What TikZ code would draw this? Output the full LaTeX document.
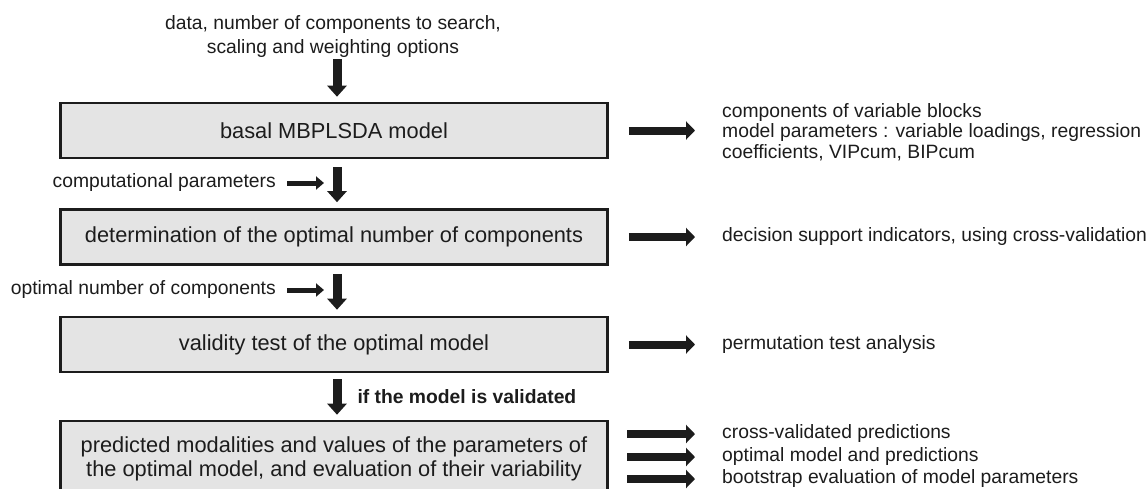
\documentclass[tikz,border=0pt]{standalone}
\usepackage{fontspec}
\setmainfont{Liberation Sans}
\usetikzlibrary{arrows.meta}
\definecolor{boxfill}{HTML}{E4E4E4}
\definecolor{ink}{HTML}{1C1C1C}
\begin{document}
\begin{tikzpicture}[x=1pt,y=-1pt,
  stage/.style={draw=ink, line width=2.6pt, fill=boxfill, minimum width=547pt,
    minimum height=55pt, inner sep=0pt, align=center,
    font=\fontsize{21.8}{24}\selectfont, text=ink},
  note/.style={font=\fontsize{19.3}{20.5}\selectfont, text=ink, inner sep=0pt},
  flow/.style={line width=9pt, draw=ink, -{Triangle[width=19pt,length=11pt]}},
  feed/.style={line width=5pt, draw=ink, -{Triangle[width=13pt,length=8pt]}},
  result/.style={line width=8pt, draw=ink, -{Triangle[width=18pt,length=9pt]}},
]
\useasboundingbox (0,0) rectangle (1146,488);
\clip (0,0) rectangle (1146,488);

% main pipeline
\node[note, align=center, font=\fontsize{19.3}{24}\selectfont] (intro) at (333,37)
  {data, number of components to search,\\scaling and weighting options};
\node[stage] (basal) at (334,130.5) {basal MBPLSDA model};
\node[stage] (ncomp) at (334,237) {determination of the optimal number of components};
\node[stage] (valid) at (334,344.5) {validity test of the optimal model};
\node[stage, minimum height=76pt] (pred) at (334,459)
  {predicted modalities and values of the parameters of\\the optimal model, and evaluation of their variability};

% the vertical flow sits a little right of the box centres
\coordinate (a0) at (337,59);
\draw[flow, shorten >=5pt] (a0) -- ([xshift=3pt]basal.north);
\draw[flow, shorten <=8pt, shorten >=6pt] ([xshift=3pt]basal.south) -- ([xshift=3pt]ncomp.north);
\draw[flow, shorten <=8pt, shorten >=6pt] ([xshift=3pt]ncomp.south) -- ([xshift=3pt]valid.north);
\draw[flow, shorten <=6pt, shorten >=5pt] ([xshift=3pt]valid.south) -- ([xshift=3pt]pred.north)
  node[midway, right=16pt, note, font=\bfseries\fontsize{19.3}{20.5}\selectfont] (cond) {if the model is validated};

% inputs along the way
\node[note, anchor=east] (cparam) at (276,183) {computational parameters};
\coordinate (c1) at (324,183);
\draw[feed] (cparam.east) ++(11,0) -- (c1);
\node[note, anchor=east] (oparam) at (276,290) {optimal number of components};
\coordinate (c2) at (324,290);
\draw[feed] (oparam.east) ++(11,0) -- (c2);

% outputs
\node[note, anchor=west, align=left, font=\fontsize{19.3}{20.5}\selectfont] (o1) at (722,132)
  {components of variable blocks\\model parameters : variable loadings, regression\\coefficients, VIPcum, BIPcum};
\draw[result] ([xshift=20pt]basal.east) -- ([xshift=-27pt]o1.west |- basal.east);

\node[note, anchor=west] (o2) at (722,237) {decision support indicators, using cross-validation};
\draw[result] ([xshift=20pt]ncomp.east) -- ([xshift=-27pt]o2.west);

\node[note, anchor=west] (o3) at (722,344.5) {permutation test analysis};
\draw[result] ([xshift=20pt]valid.east) -- ([xshift=-27pt]o3.west);

\node[note, anchor=west] (o4) at (722,434) {cross-validated predictions};
\node[note, anchor=west] (o5) at (722,457) {optimal model and predictions};
\node[note, anchor=west] (o6) at (722,479) {bootstrap evaluation of model parameters};
\coordinate (s4) at (627,434);
\coordinate (s5) at (627,457);
\coordinate (s6) at (627,479);
\draw[result] (s4) -- ([xshift=-27pt]o4.west);
\draw[result] (s5) -- ([xshift=-27pt]o5.west);
\draw[result] (s6) -- ([xshift=-27pt]o6.west);
\end{tikzpicture}
\end{document}
